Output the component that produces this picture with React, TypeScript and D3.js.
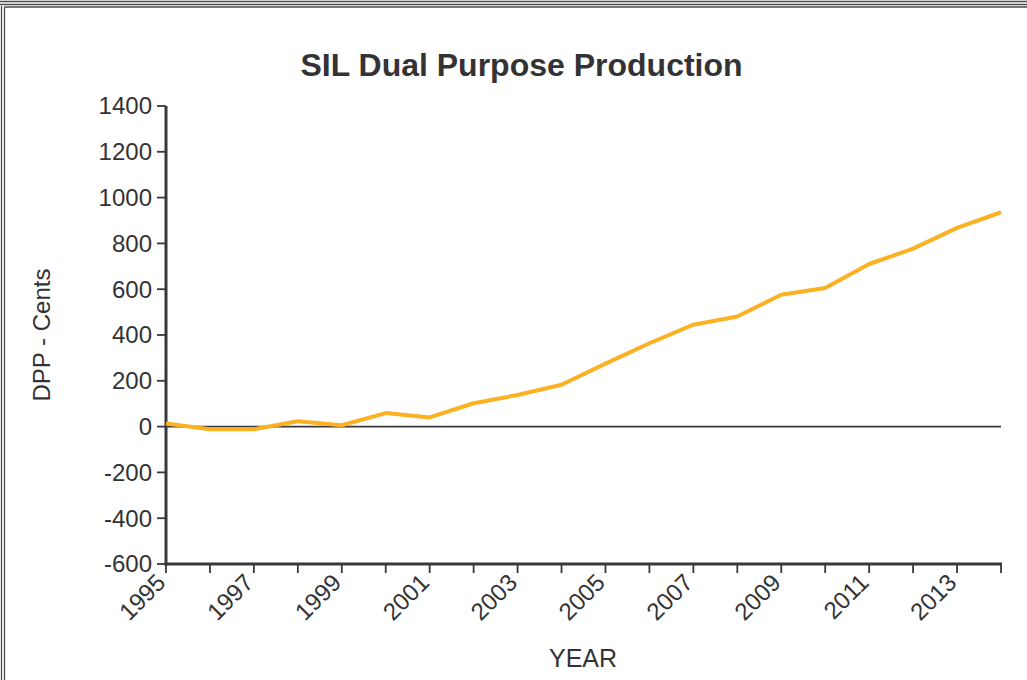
import React from "react";
import * as d3 from "d3";

const years: number[] = [1995, 1996, 1997, 1998, 1999, 2000, 2001, 2002, 2003, 2004, 2005, 2006, 2007, 2008, 2009, 2010, 2011, 2012, 2013, 2014];
const dpp: number[] = [14, -12, -12, 23, 6, 59, 40, 102, 138, 183, 275, 364, 445, 481, 576, 605, 710, 777, 868, 936];
const yTicks: number[] = [-600, -400, -200, 0, 200, 400, 600, 800, 1000, 1200, 1400];
const xLabelYears: number[] = [1995, 1997, 1999, 2001, 2003, 2005, 2007, 2009, 2011, 2013];

const W = 1027;
const H = 680;
const FONT = "'Liberation Sans', Arial, Helvetica, sans-serif";
const TEXT = "#333336";
const AXIS = "#38383c";

export default function App() {
  const x = d3.scaleLinear().domain([1995, 2014]).range([166, 1001]);
  const y = d3.scaleLinear().domain([-600, 1400]).range([564, 106]);
  const line = d3
    .line<number>()
    .x((_, i) => x(years[i]))
    .y((d) => y(d));

  return (
    <svg width={W} height={H} style={{ position: "absolute", left: 0, top: 0, background: "#fff" }} fontFamily={FONT}>
      {/* frame */}
      <g stroke="#4a4a4a" strokeWidth={1.3} fill="none">
        <line x1={0} x2={W} y1={1.5} y2={1.5} />
        <line x1={0} x2={W} y1={4.5} y2={4.5} />
        <line x1={4.5} x2={W} y1={7} y2={7} />
        <line x1={1.5} x2={1.5} y1={6} y2={H} />
        <line x1={4.5} x2={4.5} y1={7} y2={H} />
      </g>

      <text x={521.5} y={76} textAnchor="middle" fontSize={32} fontWeight="bold" fill={TEXT}>
        SIL Dual Purpose Production
      </text>

      {/* zero line */}
      <line x1={x(1995)} x2={x(2014)} y1={y(0)} y2={y(0)} stroke={AXIS} strokeWidth={1.8} />

      {/* y axis */}
      <line x1={166} x2={166} y1={y(1400)} y2={y(-600) + 1.5} stroke={AXIS} strokeWidth={3} />
      {yTicks.map((t) => (
        <g key={t}>
          <line x1={157} x2={166} y1={y(t)} y2={y(t)} stroke={AXIS} strokeWidth={1.8} />
          <text x={152} y={y(t)} dy="0.35em" textAnchor="end" fontSize={24} fill={TEXT}>
            {t}
          </text>
        </g>
      ))}

      {/* x axis */}
      <line x1={164.5} x2={x(2014) + 1} y1={564} y2={564} stroke={AXIS} strokeWidth={3} />
      {years.map((yr) => (
        <line key={yr} x1={x(yr)} x2={x(yr)} y1={564} y2={573} stroke={AXIS} strokeWidth={1.8} />
      ))}
      {xLabelYears.map((yr) => (
        <text
          key={yr}
          transform={`translate(${x(yr) + 1},${584}) rotate(-45)`}
          textAnchor="end"
          fontSize={24}
          fill={TEXT}
        >
          {yr}
        </text>
      ))}

      {/* axis titles */}
      <text x={583} y={667} textAnchor="middle" fontSize={25} fill={TEXT}>
        YEAR
      </text>
      <text transform={`translate(50,335) rotate(-90)`} textAnchor="middle" fontSize={24} fill={TEXT}>
        DPP - Cents
      </text>

      {/* data line */}
      <path d={line(dpp) || ""} fill="none" stroke="#fbb121" strokeWidth={4} strokeLinejoin="round" />
    </svg>
  );
}
